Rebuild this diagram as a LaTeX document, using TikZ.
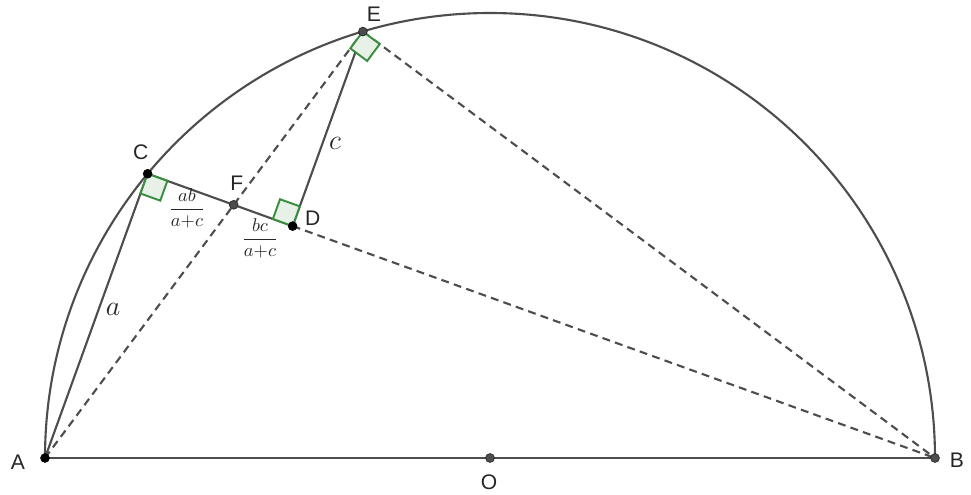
\RequirePackage{fix-cm}
\documentclass[tikz,border=0pt]{standalone}
\usepackage{amsmath}
\usepackage{fontspec}
\setmainfont{Liberation Sans}
\usetikzlibrary{calc}
\definecolor{linegray}{HTML}{4D4D4D}
\definecolor{anglegreen}{HTML}{388E3C}
\begin{document}
\begin{tikzpicture}[x=1cm,y=1cm,
  blackpt/.style={circle,fill=black,draw=black,inner sep=0pt,minimum size=5pt},
  graypt/.style={circle,fill=linegray,draw=black!85,inner sep=0pt,minimum size=5pt},
  seg/.style={line width=1.2pt,draw=linegray},
  dseg/.style={seg,dash pattern=on 4.5pt off 3pt},
  rmark/.style={draw=anglegreen,fill=anglegreen!12,line width=1.1pt},
  lbl/.style={font=\fontsize{12}{14}\selectfont,text=black!85},
  mlbl/.style={font=\fontsize{16}{19}\selectfont,text=black!85},
  frac/.style={font=\fontsize{10.5}{13}\selectfont,text=black!85}]
\useasboundingbox (-9.8,-0.74) rectangle (9.62,9.16);
% points
\coordinate (O) at (0,0);
\coordinate (A) at (-8.9,0);
\coordinate (B) at (8.9,0);
\coordinate (E) at (106.6:8.9);
\coordinate (C) at (140.3:8.9);
\coordinate (D) at ($(C)!(E)!(B)$);
\coordinate (F) at (intersection of A--E and C--D);
% semicircle and segments
\draw [seg] (B) arc (0:180:8.9);
\draw [seg] (A) -- (B);
\draw [seg] (A) -- (C);
\draw [seg] (C) -- (D);
\draw [seg] (D) -- (E);
\draw [dseg] (A) -- (E);
\draw [dseg] (E) -- (B);
\draw [dseg] (D) -- (B);
% right angles
\coordinate (Ca) at ($(C)!0.42cm!(A)$);
\coordinate (Cb) at ($(C)!0.42cm!(B)$);
\draw [rmark] (C) -- (Ca) -- ($(Ca)+(Cb)-(C)$) -- (Cb) -- cycle;
\coordinate (Dc) at ($(D)!0.42cm!(C)$);
\coordinate (De) at ($(D)!0.42cm!(E)$);
\draw [rmark] (D) -- (Dc) -- ($(Dc)+(De)-(D)$) -- (De) -- cycle;
\coordinate (Ea) at ($(E)!0.42cm!(A)$);
\coordinate (Eb) at ($(E)!0.42cm!(B)$);
\draw [rmark] (E) -- (Ea) -- ($(Ea)+(Eb)-(E)$) -- (Eb) -- cycle;
% dots
\node [blackpt] (pA) at (A) {};
\node [blackpt] (pC) at (C) {};
\node [blackpt] (pD) at (D) {};
\node [graypt] (pE) at (E) {};
\node [graypt] (pF) at (F) {};
\node [graypt] (pO) at (O) {};
\node [graypt] (pB) at (B) {};
% labels
\node [lbl] (lA) at ($(A)+(-0.54,-0.08)$) {A};
\node [lbl] (lB) at ($(B)+(0.44,-0.04)$) {B};
\node [lbl] (lO) at ($(O)+(-0.02,-0.48)$) {O};
\node [lbl] (lE) at ($(E)+(0.22,0.34)$) {E};
\node [lbl] (lC) at ($(C)+(-0.14,0.44)$) {C};
\node [lbl] (lF) at ($(F)+(0.06,0.44)$) {F};
\node [lbl] (lD) at ($(D)+(0.40,0.16)$) {D};
\node [mlbl] (la) at (-7.54,2.98) {$a$};
\node [mlbl] (lc) at (-3.1,6.3) {$c$};
\node [frac] (lab) at (-6.06,5.0) {$\dfrac{ab}{a{+}c}$};
\node [frac] (lbc) at (-4.6,4.4) {$\dfrac{bc}{a{+}c}$};
\end{tikzpicture}
\end{document}
